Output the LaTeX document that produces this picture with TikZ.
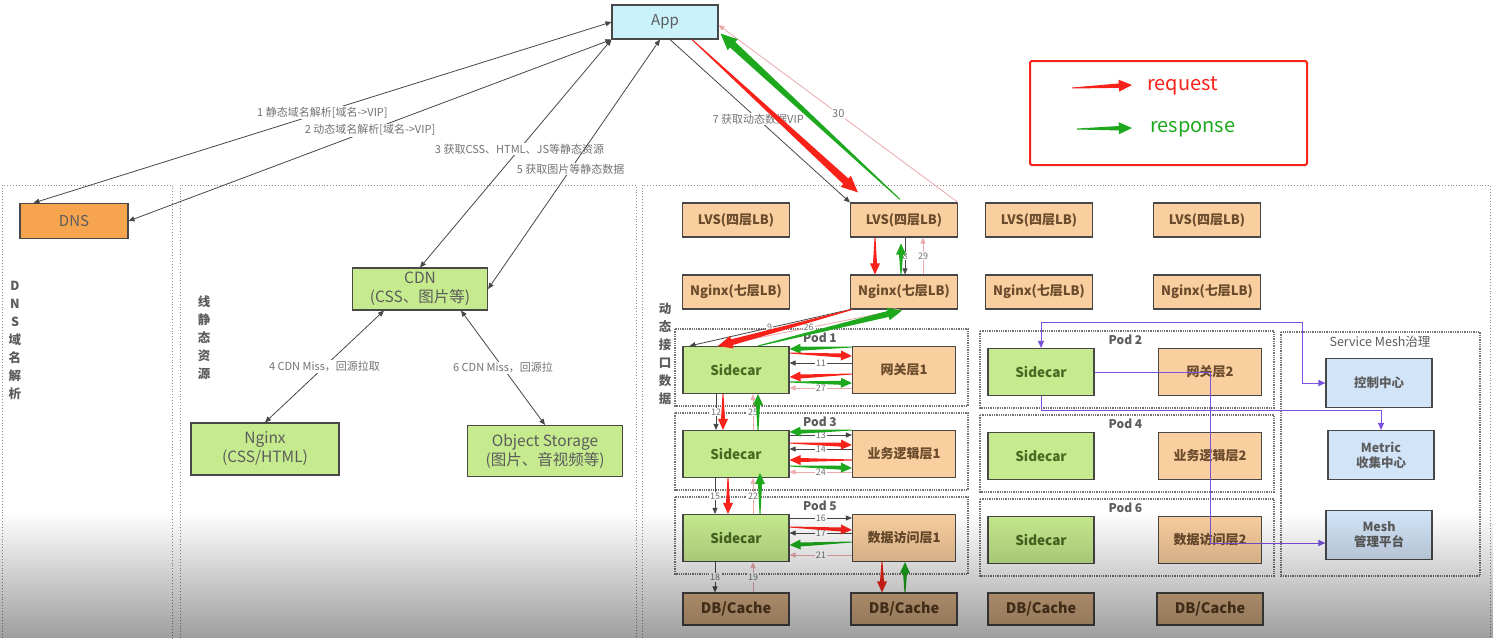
\documentclass[tikz,border=0pt]{standalone}
\usepackage{fontspec}
\setmainfont{Noto Sans CJK SC}
\usepackage{tikz}
\usetikzlibrary{arrows.meta,calc,positioning,fadings}
\definecolor{appfill}{HTML}{C9F2FB}
\definecolor{dnsfill}{HTML}{F6A44E}
\definecolor{grnfill}{HTML}{C6EB8E}
\definecolor{lbfill}{HTML}{FACF9F}
\definecolor{dbfill}{HTML}{E0B78B}
\definecolor{meshfill}{HTML}{D2E4F8}
\definecolor{req}{HTML}{F7231A}
\definecolor{resp}{HTML}{1DA81D}
\definecolor{pinkln}{HTML}{EBA9AE}
\definecolor{meshln}{HTML}{7A52DE}
\definecolor{framegray}{HTML}{8C8C8C}
\definecolor{boxline}{HTML}{484848}
\definecolor{txtgray}{HTML}{5C5C5C}
\definecolor{lbtext}{HTML}{6A4B2C}
\definecolor{sctext}{HTML}{486A22}
\definecolor{dbtext}{HTML}{5A3D20}
\tikzfading[name=fade down,top color=transparent!100,bottom color=transparent!0]

\newcommand{\taper}[5]{%
  \coordinate (tp-a) at (#2);
  \coordinate (tp-b) at (#3);
  \coordinate (tp-h) at ($(tp-b)!2.2*#5!(tp-a)$);
  \fill[#1] ($(tp-a)!0.5pt!90:(tp-b)$) -- ($(tp-h)!#4!90:(tp-b)$) -- ($(tp-h)!#5!90:(tp-b)$) -- (tp-b)
    -- ($(tp-h)!#5!-90:(tp-b)$) -- ($(tp-h)!#4!-90:(tp-b)$) -- ($(tp-a)!0.5pt!-90:(tp-b)$) -- cycle;
}

\begin{document}
\begin{tikzpicture}[x=1pt,y=-1pt,
  box/.style={draw=boxline,line width=1.1pt,inner sep=1pt,align=center,minimum width=106pt,minimum height=34pt,font=\fontsize{11}{14}\selectfont},
  appbox/.style={box,fill=appfill,text=txtgray,font=\fontsize{15}{17}\selectfont},
  dnsbox/.style={box,fill=dnsfill,text=txtgray,minimum width=108pt,minimum height=35pt,font=\fontsize{15}{17}\selectfont},
  grnbox/.style={box,fill=grnfill,text=txtgray,font=\fontsize{15.5}{19}\selectfont},
  lbbox/.style={box,fill=lbfill,text=lbtext,minimum width=107pt,font=\fontsize{13}{15}\selectfont\bfseries},
  scbox/.style={box,fill=grnfill,text=sctext,minimum height=47pt,font=\fontsize{13.5}{15}\selectfont\bfseries},
  svcbox/.style={box,fill=lbfill,text=lbtext,minimum width=103pt,minimum height=47pt,font=\fontsize{13}{15}\selectfont\bfseries},
  dbbox/.style={box,fill=dbfill,text=dbtext,minimum height=32pt,font=\fontsize{14.5}{16}\selectfont\bfseries},
  meshbox/.style={box,fill=meshfill,text=txtgray,minimum height=49pt,font=\fontsize{12.5}{15}\selectfont\bfseries},
  region/.style={draw=framegray,dotted,line width=0.9pt},
  podframe/.style={draw=black!55,densely dotted,line width=1.3pt},
  podlbl/.style={text=txtgray,inner sep=0pt,font=\fontsize{12}{14}\selectfont\bfseries},
  vtext/.style={text=txtgray,align=center,inner sep=0pt,font=\fontsize{12.5}{18}\selectfont\bfseries},
  ln/.style={draw=black!72,line width=0.8pt,-{Triangle[length=6pt,width=5pt]}},
  lnb/.style={ln,{Triangle[length=6pt,width=5pt]}-{Triangle[length=6pt,width=5pt]}},
  pk/.style={draw=pinkln,line width=0.8pt,-{Triangle[length=6pt,width=5pt]}},
  mln/.style={draw=meshln,line width=0.9pt,-{Triangle[length=7pt,width=6pt]}},
  lbl/.style={fill=white,text=black!55,inner sep=1pt,font=\fontsize{11}{12}\selectfont},
  nlbl/.style={lbl,font=\fontsize{9}{10}\selectfont},
]
\useasboundingbox (0,0) rectangle (1495,638);
\fill[white] (0,0) rectangle (1495,638);

\draw[region] (2,638) |- (172,185) -- (172,638);
\draw[region] (180,638) |- (636,185) -- (636,638);
\draw[region] (642,638) |- (1490,185) -- (1490,638);
\node[vtext] (vdns) at (15,340) {D\\N\\S\\域\\名\\解\\析};
\node[vtext] (vstatic) at (204,338) {线\\静\\态\\资\\源};
\node[vtext] (vdyn) at (665,354) {动\\态\\接\\口\\数\\据};

\node[appbox] (app) at (665,22) {App};
\node[dnsbox] (dns) at (74,221) {DNS};
\node[grnbox,minimum width=135pt,minimum height=42pt] (cdn) at (420,289) {CDN\\(CSS、图片等)};
\node[grnbox,minimum width=148pt,minimum height=52pt] (ngx) at (265,449) {Nginx\\(CSS/HTML)};
\node[grnbox,minimum width=155pt,minimum height=51pt] (oss) at (545,451) {Object Storage\\(图片、音视频等)};

\foreach \i/\x in {1/736,2/904,3/1039,4/1207}{
  \node[lbbox] (lvs\i) at (\x,220) {LVS(四层LB)};
  \node[lbbox] (nx\i) at (\x,292) {Nginx(七层LB)};
}
\foreach \r/\y/\svc/\xa/\xb in {1/370/网关层1/736/904,3/454/业务逻辑层1/736/904,5/538/数据访问层1/736/904,
                                 2/372/网关层2/1041/1210,4/456/业务逻辑层2/1041/1210,6/540/数据访问层2/1041/1210}{
  \draw[podframe] (\xa-61,\y-41) rectangle (\xb+64,\y+36);
  \node[podlbl] (podl\r) at ({(\xa+\xb)/2},\y-32) {Pod \r};
  \node[scbox] (sc\r) at (\xa,\y) {Sidecar};
  \node[svcbox] (svc\r) at (\xb,\y) {\svc};
}
\foreach \i/\x in {1/736,2/904,3/1041,4/1210}
  \node[dbbox] (db\i) at (\x,609) {DB/Cache};

\draw[podframe] (1281,332) rectangle (1480,576);
\node[podlbl,font=\fontsize{12.5}{14}\selectfont] (meshl) at (1380,342) {Service Mesh治理};
\node[meshbox] (ctrl) at (1379,383) {控制中心};
\node[meshbox] (metric) at (1381,455) {Metric\\收集中心};
\node[meshbox] (mgmt) at (1379,535) {Mesh\\管理平台};

\draw[lnb] ([xshift=14pt]dns.north west) -- node[lbl]{1 静态域名解析[域名->VIP]} (app.west);
\draw[lnb] (dns.east) -- node[lbl]{2 动态域名解析[域名->VIP]} (app.south west);
\draw[lnb] (cdn.north) -- node[lbl,pos=0.52]{3 获取CSS、HTML、JS等静态资源} (app.south west);
\draw[lnb] (cdn.east) -- node[lbl,pos=0.48]{5 获取图片等静态数据} ([xshift=-5pt]app.south);
\draw[lnb] ([xshift=-36pt]cdn.south) -- node[lbl]{4 CDN Miss，回源拉取} (ngx.north);
\draw[lnb] ([xshift=41pt]cdn.south) -- node[lbl]{6 CDN Miss，回源拉} (oss.north);
\draw[ln] ([xshift=5pt]app.south) -- node[lbl,pos=0.49]{7 获取动态数据VIP} (lvs2.north west);
\draw[pk] (lvs2.north east) -- node[lbl]{30} ([yshift=-3pt]app.east);

\draw[ln] ([xshift=1pt]lvs2.south) -- node[nlbl]{8} ([xshift=1pt]nx2.north);
\draw[pk] ([xshift=19pt]nx2.north) -- node[nlbl]{29} ([xshift=19pt]lvs2.south);
\draw[ln] (nx2.south west) -- node[nlbl]{9} ([xshift=7pt]sc1.north west);
\draw[pk] ([xshift=-19pt]sc1.north) -- node[nlbl]{26} ([xshift=-4pt]nx2.south);

\draw[ln] ([yshift=7pt]svc1.west) -- node[nlbl]{11} ([yshift=7pt]sc1.east);
\draw[pk] ([yshift=-18pt]svc1.west) -- node[nlbl]{27} ([yshift=-18pt]sc1.east);
\draw[ln] ([yshift=19pt]sc3.east) -- node[nlbl]{13} ([yshift=19pt]svc3.west);
\draw[ln] ([yshift=5pt]svc3.west) -- node[nlbl]{14} ([yshift=5pt]sc3.east);
\draw[pk] ([yshift=-18pt]svc3.west) -- node[nlbl]{24} ([yshift=-18pt]sc3.east);
\draw[ln] ([yshift=20pt]sc5.east) -- node[nlbl]{16} ([yshift=20pt]svc5.west);
\draw[ln] ([yshift=5pt]svc5.west) -- node[nlbl]{17} ([yshift=5pt]sc5.east);
\draw[pk] ([yshift=-17pt]svc5.west) -- node[nlbl]{21} ([yshift=-17pt]sc5.east);

\draw[ln] ([xshift=-20pt]sc1.south) -- node[nlbl]{12} ([xshift=-20pt]sc3.north);
\draw[pk] ([xshift=17pt]sc3.north) -- node[nlbl]{25} ([xshift=17pt]sc1.south);
\draw[ln] ([xshift=-21pt]sc3.south) -- node[nlbl]{15} ([xshift=-21pt]sc5.north);
\draw[pk] ([xshift=17pt]sc5.north) -- node[nlbl]{22} ([xshift=17pt]sc3.south);
\draw[ln] ([xshift=-21pt]sc5.south) -- node[nlbl]{18} ([xshift=-21pt]db1.north);
\draw[pk] ([xshift=17pt]db1.north) -- node[nlbl]{19} ([xshift=17pt]sc5.south);

\taper{req}{[xshift=27pt]app.south}{[xshift=8pt,yshift=10pt]lvs2.north west}{3.8pt}{7.5pt}
\taper{resp}{[xshift=-4pt,yshift=3pt]lvs2.north}{[xshift=2pt,yshift=6pt]app.south east}{3.8pt}{7.5pt}
\taper{req}{[xshift=-29pt]lvs2.south}{[xshift=-29pt]nx2.north}{2pt}{5pt}
\taper{resp}{[xshift=-3pt]nx2.north}{[xshift=-3pt,yshift=-6pt]lvs2.south}{2pt}{5pt}
\taper{req}{[xshift=2pt]nx2.south west}{[xshift=-18pt]sc1.north}{3pt}{6.5pt}
\taper{resp}{[xshift=22pt]sc1.north}{[xshift=-2pt,yshift=-1pt]nx2.south}{3pt}{6.5pt}

\taper{resp}{[yshift=23pt]svc1.west}{[yshift=21pt]sc1.east}{2pt}{5pt}
\taper{req}{[yshift=17pt]sc1.east}{[yshift=14pt]svc1.west}{2pt}{5pt}
\taper{req}{[yshift=-4pt]svc1.west}{[yshift=-7pt]sc1.east}{2pt}{5pt}
\taper{resp}{[yshift=-12pt]sc1.east}{[yshift=-13pt]svc1.west}{2pt}{5pt}
\taper{resp}{[yshift=24pt]svc3.west}{[yshift=22pt]sc3.east}{2pt}{5pt}
\taper{req}{[yshift=11pt]sc3.east}{[yshift=9pt]svc3.west}{2pt}{5pt}
\taper{req}{[yshift=-6pt]svc3.west}{[yshift=-6pt]sc3.east}{2pt}{5pt}
\taper{resp}{[yshift=-12pt]sc3.east}{[yshift=-14pt]svc3.west}{2pt}{5pt}
\taper{req}{[yshift=11pt]sc5.east}{[yshift=8pt]svc5.west}{2pt}{5pt}
\taper{resp}{[yshift=-4pt]svc5.west}{[yshift=-7pt]sc5.east}{2pt}{5pt}

\taper{req}{[xshift=-13pt]sc1.south}{[xshift=-13pt]sc3.north}{2pt}{5pt}
\taper{resp}{[xshift=22pt]sc3.north}{[xshift=22pt]sc1.south}{2pt}{5pt}
\taper{req}{[xshift=-8pt]sc3.south}{[xshift=-8pt]sc5.north}{2pt}{5pt}
\taper{resp}{[xshift=24pt]sc5.north}{[xshift=24pt,yshift=5pt]sc3.south}{2pt}{5pt}
\taper{req}{[xshift=-22pt]svc5.south}{[xshift=-22pt]db2.north}{2pt}{5pt}
\taper{resp}{[xshift=1pt]db2.north}{[xshift=1pt]svc5.south}{2pt}{5pt}

\coordinate (mA) at (1302,322);
\coordinate (mB) at (1381,410);
\coordinate (mC) at (1210,543);
\draw[mln,{Triangle[length=7pt,width=6pt]}-{Triangle[length=7pt,width=6pt]}] (sc2.north) |- (mA) |- (ctrl.west);
\draw[mln] (sc2.south) |- (mB) -- (metric.north);
\draw[mln] (sc2.east) -| (mC) -- ([yshift=-8pt]mgmt.west);

\draw[req,line width=2pt,rounded corners=2pt] (1030,61) rectangle (1307,165);
\node[text=req,anchor=west,inner sep=0pt,font=\fontsize{20}{22}\selectfont] (lgreq) at (1147,86) {request};
\node[text=resp,anchor=west,inner sep=0pt,font=\fontsize{20}{22}\selectfont] (lgresp) at (1150,129) {response};
\coordinate (lgr) at (1072,88);
\coordinate (lgg) at (1077,129);
\taper{req}{lgr}{[xshift=-15pt,yshift=1pt]lgreq.west}{2.2pt}{6pt}
\taper{resp}{lgg}{[xshift=-18pt,yshift=1pt]lgresp.west}{2.2pt}{6pt}

\fill[black,opacity=0.38,path fading=fade down] (0,512) rectangle (1495,638);
\end{tikzpicture}
\end{document}
